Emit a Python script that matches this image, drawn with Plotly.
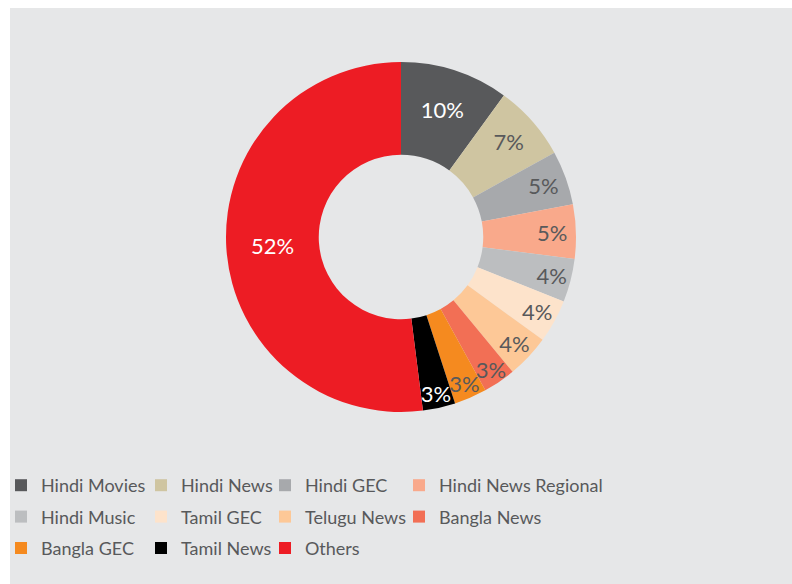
import plotly.graph_objects as go

channels = ["Hindi Movies", "Hindi News", "Hindi GEC", "Hindi News Regional",
            "Hindi Music", "Tamil GEC", "Telugu News", "Bangla News",
            "Bangla GEC", "Tamil News", "Others"]
shares = [10, 7, 5, 5, 4, 4, 4, 3, 3, 3, 52]
colors = ["#58595b", "#cfc5a1", "#a7a9ac", "#f9a98b", "#bcbec0", "#fde3cb",
          "#fdc897", "#f26f55", "#f58a1f", "#000000", "#ed1c24"]
text_colors = ["#ffffff", "#58595b", "#58595b", "#58595b", "#58595b", "#58595b",
               "#58595b", "#58595b", "#58595b", "#ffffff", "#ffffff"]

W, H = 792, 584
FONT = "Lato, Roboto, sans-serif"
GREY = "#58595b"

# donut centre (401, 237), outer radius 175 px
cx, cy, r = 401, 237, 175

fig = go.Figure()
fig.add_trace(go.Pie(
    labels=channels,
    values=shares,
    hole=0.47,
    sort=False,
    direction="clockwise",
    rotation=0,
    marker=dict(colors=colors, line=dict(width=0)),
    texttemplate="%{value}%",
    textposition="inside",
    insidetextorientation="horizontal",
    textfont=dict(family=FONT, size=22, color=text_colors),
    hoverinfo="label+percent",
    showlegend=False,
    domain=dict(x=[(cx - r) / W, (cx + r) / W],
                y=[1 - (cy + r) / H, 1 - (cy - r) / H]),
))

# legend: four columns of uneven width, one legend box per column
col_left = [1, 141, 265, 399]
legend_names = ["legend", "legend2", "legend3", "legend4"]
for i, (name, color) in enumerate(zip(channels, colors)):
    fig.add_trace(go.Scatter(
        x=[None], y=[None], mode="markers", name=name,
        marker=dict(symbol="square", size=12, color=color, line=dict(width=0)),
        legend=legend_names[i % 4], legendgroup=name, hoverinfo="skip",
    ))

legend_style = dict(
    orientation="v", xanchor="left", y=1 - 467 / H, yanchor="top",
    tracegroupgap=5, bgcolor="rgba(0,0,0,0)",
    font=dict(family=FONT, size=18, color=GREY),
)

fig.update_layout(
    width=W, height=H,
    margin=dict(l=0, r=0, t=0, b=0),
    paper_bgcolor="#ffffff",
    plot_bgcolor="rgba(0,0,0,0)",
    font=dict(family=FONT, color=GREY),
    uniformtext=dict(minsize=22, mode="show"),
    xaxis=dict(visible=False),
    yaxis=dict(visible=False),
    shapes=[dict(type="rect", xref="paper", yref="paper", x0=10 / W, x1=1,
                 y0=0, y1=1 - 8 / H, fillcolor="#e6e7e8", line=dict(width=0),
                 layer="below")],
    **{ln: dict(legend_style, x=left / W) for ln, left in zip(legend_names, col_left)},
)

# the page body has an 8px default margin; drop it so the figure fills the window
fig.write_html("out.html", config={"displayModeBar": False},
               post_script="document.body.style.margin = '0';")
